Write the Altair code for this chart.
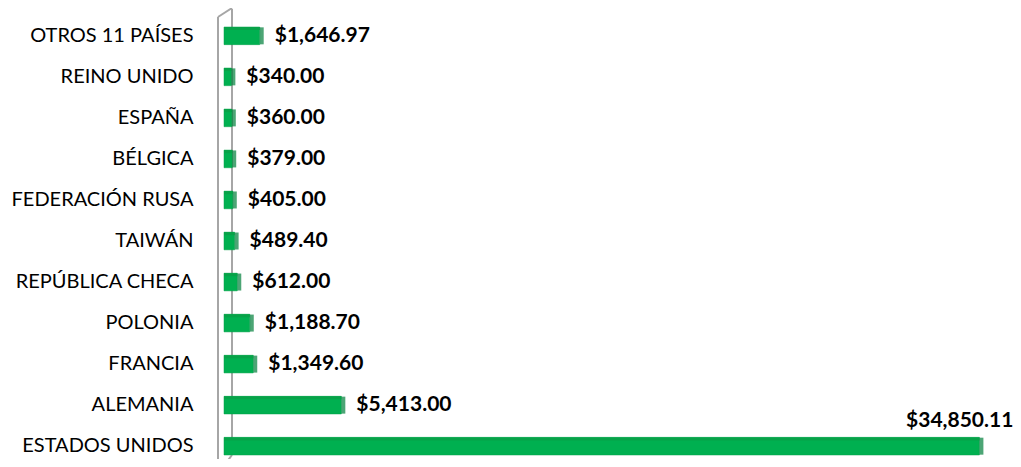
import altair as alt
import pandas as pd

countries = ["OTROS 11 PAÍSES", "REINO UNIDO", "ESPAÑA", "BÉLGICA", "FEDERACIÓN RUSA",
             "TAIWÁN", "REPÚBLICA CHECA", "POLONIA", "FRANCIA", "ALEMANIA", "ESTADOS UNIDOS"]
values = [1646.97, 340.00, 360.00, 379.00, 405.00, 489.40, 612.00, 1188.70, 1349.60, 5413.00, 34850.11]

df = pd.DataFrame({"pais": countries, "valor": values})
largest = countries[values.index(max(values))]

W, H = 789, 451
x_scale = alt.Scale(domain=[0, 36400], nice=False, zero=True)
y_scale = alt.Scale(domain=countries, range=[19, 447], paddingInner=0.57, paddingOuter=0)

base = alt.Chart(df)
one = pd.DataFrame({"k": [0]})
WALL = "#A6A6A6"

def wall_line(x1, y1, x2, y2):
    return alt.Chart(one).mark_rule(color=WALL, strokeWidth=2).encode(
        x=alt.value(x1), y=alt.value(y1), x2=alt.value(x2), y2=alt.value(y2))

walls = [wall_line(-6, 9, -6, 460), wall_line(-6, 9, 8, 0),
         wall_line(8, 447, 2, 455), wall_line(8, 1, 8, 447)]

X = alt.X("valor:Q", scale=x_scale, axis=None)
Y = alt.Y("pais:N", scale=y_scale, sort=countries,
          axis=alt.Axis(title=None, ticks=False, domain=False, grid=False, labelPadding=31,
                        labelFont="Lato", labelFontSize=20, labelColor="#000000",
                        labelLimit=300))

bars = base.mark_bar(color="#00B050", stroke="#00A048", strokeWidth=0.5).encode(x=X, y=Y)

top_face = base.mark_bar(color="#07A248", height=3, yOffset=-7.3).encode(x=X, y=Y)

caps = base.mark_tick(color="#007F3A", thickness=4, size=17, xOffset=2).encode(x=X, y=Y)

labels = base.transform_filter(alt.datum.pais != largest).mark_text(
    align="left", baseline="middle", dx=15, font="Lato", fontSize=21, fontWeight="bold",
    color="#000000").encode(x=X, y=Y, text=alt.Text("valor:Q", format="$,.2f"))

top_label = base.transform_filter(alt.datum.pais == largest).mark_text(
    align="right", baseline="middle", dx=34, dy=-25, font="Lato", fontSize=21,
    fontWeight="bold", color="#000000").encode(
    x=X, y=Y, text=alt.Text("valor:Q", format="$,.2f"))

chart = alt.layer(*walls, bars, top_face, caps, labels, top_label).properties(
    width=W, height=H,
    view=alt.ViewBackground(stroke="transparent", strokeWidth=0),
    autosize=alt.AutoSizeParams(type="none"),
    padding={"left": 216, "top": 0, "right": 0, "bottom": 0},
).configure_view(stroke="transparent", strokeWidth=0).configure(background="#FFFFFF")

chart.save("out.html", embed_options={"renderer": "svg", "actions": False})
